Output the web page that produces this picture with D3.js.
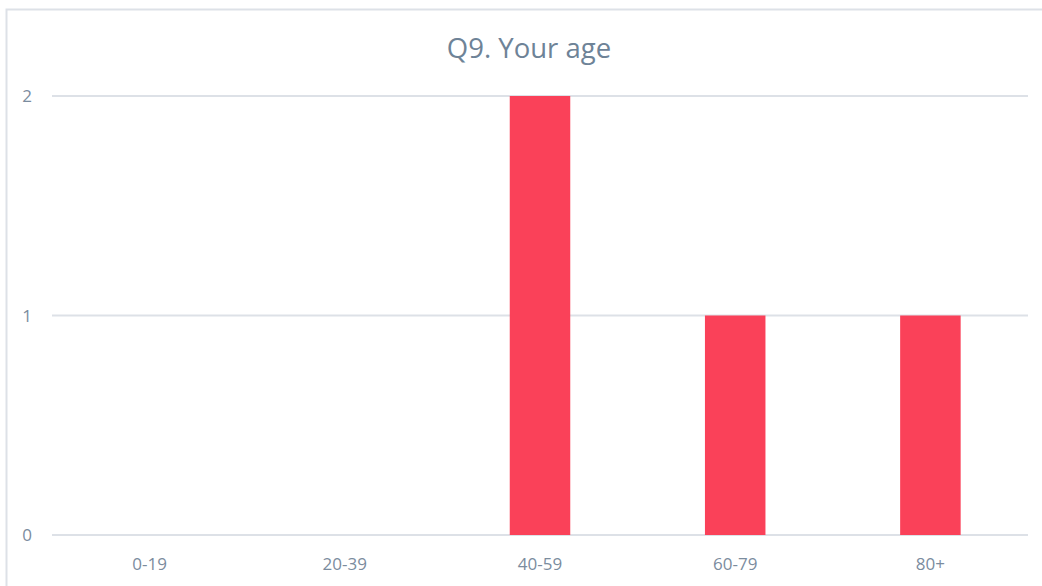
<!DOCTYPE html>
<html>
<head>
<meta charset="utf-8">
<script src="https://cdn.jsdelivr.net/npm/d3@7"></script>
<style>
  body { margin: 0; background: #fff; }
  svg { display: block; }
</style>
</head>
<body>
<svg id="chart" width="1042" height="586"></svg>
<script>
// chart data
var categories = ['0-19', '20-39', '40-59', '60-79', '80+'];
var counts = [0, 0, 2, 1, 1];
var yTicks = [0, 1, 2];
var chartTitle = 'Q9. Your age';

var svg = d3.select('#chart');
var textColor = '#7b8c9e';
var gridColor = '#dde1e7';

// outer frame (only top & left visible in the picture)
svg.append('path')
	.attr('d', 'M6.5,586 L6.5,9.5 L1042,9.5')
	.attr('fill', 'none')
	.attr('stroke', gridColor)
	.attr('stroke-width', 2);

var plotLeft = 52, plotRight = 1028, plotTop = 96, plotBottom = 535;

var x = d3.scaleBand()
	.domain(categories)
	.range([plotLeft, plotRight])
	.paddingInner(0.69)
	.paddingOuter(0.345);

var y = d3.scaleLinear()
	.domain([0, 2])
	.range([plotBottom, plotTop]);

// gridlines
svg.append('g')
	.selectAll('line')
	.data(yTicks)
	.enter()
	.append('line')
	.attr('x1', plotLeft)
	.attr('x2', plotRight)
	.attr('y1', function(d) { return y(d); })
	.attr('y2', function(d) { return y(d); })
	.attr('stroke', gridColor)
	.attr('stroke-width', 2);

// y labels
svg.append('g')
	.selectAll('text')
	.data(yTicks)
	.enter()
	.append('text')
	.attr('x', 27)
	.attr('y', function(d) { return y(d) + 6; })
	.attr('text-anchor', 'middle')
	.attr('font-family', 'Open Sans, sans-serif')
	.attr('font-size', 17)
	.attr('fill', textColor)
	.text(function(d) { return d; });

// bars
svg.append('g')
	.selectAll('rect')
	.data(categories)
	.enter()
	.append('rect')
	.attr('x', function(d) { return x(d); })
	.attr('width', x.bandwidth())
	.attr('y', function(d, i) { return y(counts[i]); })
	.attr('height', function(d, i) { return plotBottom - y(counts[i]); })
	.attr('fill', '#fa4159');

// x labels
svg.append('g')
	.selectAll('text')
	.data(categories)
	.enter()
	.append('text')
	.attr('x', function(d) { return x(d) + x.bandwidth() / 2; })
	.attr('y', 570)
	.attr('text-anchor', 'middle')
	.attr('font-family', 'Open Sans, sans-serif')
	.attr('font-size', 17)
	.attr('fill', textColor)
	.text(function(d) { return d; });

// title
svg.append('text')
	.attr('x', 529)
	.attr('y', 58)
	.attr('text-anchor', 'middle')
	.attr('font-family', 'Open Sans, sans-serif')
	.attr('font-size', 27.5)
	.attr('fill', '#6e8397')
	.text(chartTitle);
</script>
</body>
</html>
